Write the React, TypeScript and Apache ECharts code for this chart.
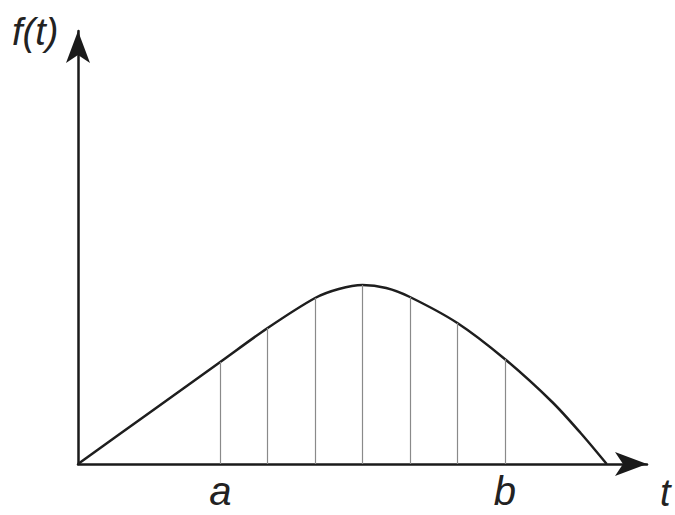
import React, { useEffect, useRef } from "react";
import * as echarts from "echarts";

// curve f(t): sample points
const curveT = [0, 1.5, 3, 4, 5, 5.5, 6, 6.5, 7, 8, 9, 10, 10.6, 11.15];
const curveF = [0, 5.1, 10.2, 13.6, 16.6, 17.5, 17.9, 17.6, 16.7, 14.1, 10.5, 6.2, 3.1, 0];

// vertical strips between a and b
const dropT = [3, 4, 5, 6, 7, 8, 9];

// labelled ticks on the t axis
const tickT = [3, 9];
const tickLabels = ["a", "b"];

const yName = "f(t)";
const xName = "t";

const FONT = "'Liberation Sans', Arial, sans-serif";

export default function App() {
  const ref = useRef<HTMLDivElement>(null);
  useEffect(() => {
    if (!ref.current) return;
    const chart = echarts.init(ref.current, undefined, { renderer: "svg" });
    const curve = curveT.map((t, i) => [t, curveF[i]]);
    const fAt = (t: number) => {
      const i = curveT.indexOf(t);
      return i >= 0 ? curveF[i] : 0;
    };
    const drops = dropT.map((t) => [
      { coord: [t, 0] },
      { coord: [t, fAt(t)] },
    ]);
    const axisLine = {
      show: true,
      symbol: ["none", "arrow"],
      symbolSize: [18, 32],
      lineStyle: { color: "#1a1a1a", width: 2.5 },
    };
    chart.setOption({
      animation: false,
      backgroundColor: "#ffffff",
      grid: { left: 78, right: 28, top: 31, bottom: 51 },
      xAxis: {
        type: "value",
        min: 0,
        max: 12,
        interval: 1,
        axisLine,
        axisTick: { show: false },
        splitLine: { show: false },
        axisLabel: {
          show: true,
          margin: 7,
          fontSize: 40,
          fontStyle: "italic",
          fontFamily: FONT,
          color: "#222",
          formatter: (v: number) => {
            const i = tickT.indexOf(v);
            return i >= 0 ? tickLabels[i] : "";
          },
        },
      },
      yAxis: {
        type: "value",
        min: 0,
        max: 43.3,
        axisLine,
        axisTick: { show: false },
        splitLine: { show: false },
        axisLabel: { show: false },
      },
      graphic: [
        {
          type: "text",
          left: 12,
          top: 13,
          style: {
            text: yName,
            fontSize: 38,
            fontStyle: "italic",
            fontFamily: FONT,
            fill: "#222",
          },
        },
        {
          type: "text",
          left: 660,
          top: 474,
          style: {
            text: xName,
            fontSize: 38,
            fontStyle: "italic",
            fontFamily: FONT,
            fill: "#222",
          },
        },
      ],
      series: [
        {
          type: "line",
          data: curve,
          smooth: 0.3,
          symbol: "none",
          lineStyle: { color: "#1e1e1e", width: 2.5 },
          z: 3,
          markLine: {
            silent: true,
            symbol: ["none", "none"],
            label: { show: false },
            lineStyle: { color: "#8a8a8a", width: 1.2, type: "solid" },
            data: drops,
          },
        },
      ],
    });
    return () => chart.dispose();
  }, []);
  return (
    <div
      ref={ref}
      style={{ position: "fixed", left: 0, top: 0, width: 675, height: 515, background: "#fff" }}
    />
  );
}
